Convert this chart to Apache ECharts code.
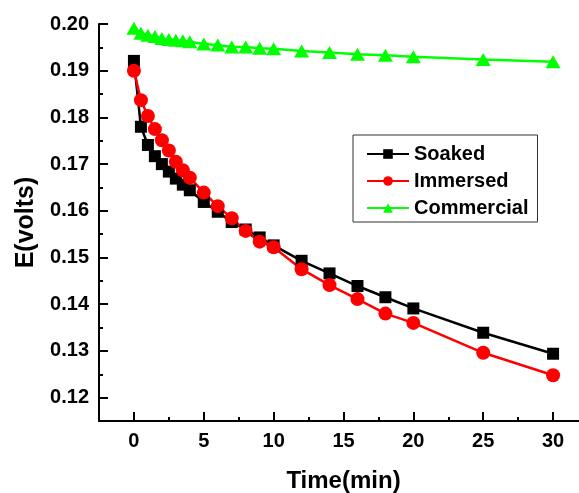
<!DOCTYPE html>
<html>
<head>
<meta charset="utf-8">
<script src="https://cdn.jsdelivr.net/npm/echarts@6/dist/echarts.min.js"></script>
<style>
  html, body { margin: 0; padding: 0; background: #fff; }
  #chart { width: 579px; height: 493px; }
</style>
</head>
<body>
<div id="chart"></div>
<script>
// time points (min), shared by all three series
const time = [0, 0.5, 1, 1.5, 2, 2.5, 3, 3.5, 4, 5, 6, 7, 8, 9, 10, 12, 14, 16, 18, 20, 25, 30];

// E (volts)
const soaked = [0.1921, 0.1780, 0.1741, 0.1717, 0.1700, 0.1684, 0.1669, 0.1656, 0.1644, 0.1619, 0.1598,
  0.1576, 0.1560, 0.1543, 0.1526, 0.1493, 0.1466, 0.1439, 0.1415, 0.1391, 0.1339, 0.1294];
const immersed = [0.1900, 0.1837, 0.1803, 0.1775, 0.1751, 0.1729, 0.1705, 0.1687, 0.1671, 0.1639, 0.1610,
  0.1584, 0.1557, 0.1534, 0.1522, 0.1475, 0.1441, 0.1411, 0.1380, 0.1360, 0.1296, 0.1248];
const commercial = [0.1991, 0.1980, 0.1976, 0.1973, 0.1969, 0.1967, 0.1965, 0.1964, 0.1962, 0.1957, 0.1955,
  0.1951, 0.1951, 0.1948, 0.1947, 0.1942, 0.1939, 0.1935, 0.1933, 0.1930, 0.1924, 0.1919];

// tick labels
const xTicks = [0, 5, 10, 15, 20, 25, 30];
const yTicks = [0.12, 0.13, 0.14, 0.15, 0.16, 0.17, 0.18, 0.19, 0.20];

const font = 'Liberation Sans, Arial, sans-serif';

function pairs(ys) {
  return time.map((t, i) => [t, ys[i]]);
}

const chart = echarts.init(document.getElementById('chart'));

const xBase = { type: 'value', min: -2.5, max: 32.5, position: 'bottom', splitLine: { show: false } };
const yBase = { type: 'value', min: 0.115, max: 0.2, position: 'left', splitLine: { show: false } };
const tickLine = { color: '#000', width: 2 };

chart.setOption({
  animation: false,
  grid: { left: 99, right: -9, top: 24, bottom: 72, outerBoundsMode: 'none', containLabel: false },
  xAxis: [
    Object.assign({}, xBase, {
      interval: 2.5,
      name: 'Time(min)',
      nameLocation: 'middle',
      nameGap: 48,
      nameTextStyle: { fontFamily: font, fontWeight: 'bold', fontSize: 24, color: '#000' },
      axisLine: { onZero: false, lineStyle: { color: '#000', width: 2 } },
      axisTick: { inside: true, length: 4, lineStyle: tickLine },
      axisLabel: {
        customValues: xTicks, margin: 10,
        fontFamily: font, fontWeight: 'bold', fontSize: 20, color: '#000'
      }
    }),
    Object.assign({}, xBase, {
      axisLine: { show: false, onZero: false },
      axisTick: { show: true, customValues: xTicks, inside: true, length: 9, lineStyle: tickLine },
      axisLabel: { show: false }
    })
  ],
  yAxis: [
    Object.assign({}, yBase, {
      interval: 0.005,
      name: 'E(volts)',
      nameLocation: 'middle',
      nameGap: 60,
      nameTextStyle: { fontFamily: font, fontWeight: 'bold', fontSize: 25, color: '#000' },
      axisLine: { onZero: false, lineStyle: { color: '#000', width: 2 } },
      axisTick: { inside: true, length: 4, lineStyle: tickLine },
      axisLabel: {
        customValues: yTicks, margin: 10,
        formatter: v => v.toFixed(2),
        fontFamily: font, fontWeight: 'bold', fontSize: 20, color: '#000'
      }
    }),
    Object.assign({}, yBase, {
      axisLine: { show: false, onZero: false },
      axisTick: { show: true, customValues: yTicks, inside: true, length: 9, lineStyle: tickLine },
      axisLabel: { show: false }
    })
  ],
  legend: {
    orient: 'vertical',
    left: 353,
    top: 135,
    padding: [9, 9, 4, 13],
    itemGap: 7,
    itemWidth: 42,
    itemHeight: 12,
    borderColor: '#333',
    borderWidth: 1,
    textStyle: { fontFamily: font, fontWeight: 'bold', fontSize: 20, color: '#000' },
    data: ['Soaked', 'Immersed', 'Commercial']
  },
  series: [
    {
      name: 'Soaked', type: 'line', data: pairs(soaked),
      symbol: 'rect', symbolSize: 12,
      itemStyle: { color: '#000' }, lineStyle: { color: '#000', width: 2.5 }
    },
    {
      name: 'Immersed', type: 'line', data: pairs(immersed),
      symbol: 'circle', symbolSize: 14,
      itemStyle: { color: '#ff0000' }, lineStyle: { color: '#ff0000', width: 2.5 }
    },
    {
      name: 'Commercial', type: 'line', data: pairs(commercial),
      symbol: 'triangle', symbolSize: [15, 13],
      itemStyle: { color: '#00ff00' }, lineStyle: { color: '#00ff00', width: 2.5 }
    }
  ]
});
</script>
</body>
</html>
